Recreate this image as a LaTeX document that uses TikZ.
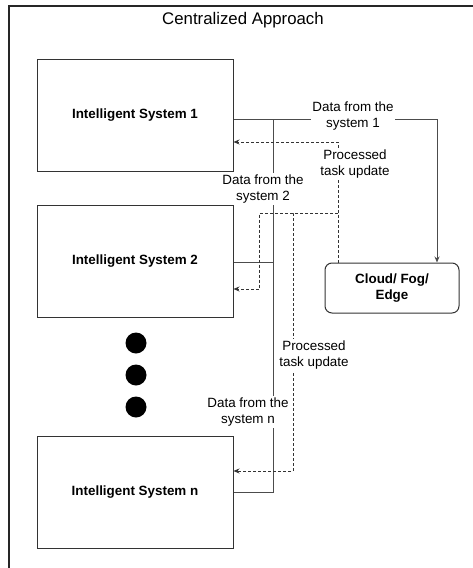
\documentclass[tikz,border=0pt]{standalone}
\usepackage{fontspec}
\setmainfont{Liberation Sans}
\usetikzlibrary{arrows.meta,calc}
\begin{document}
\begin{tikzpicture}[x=1pt,y=-1pt,
  sysbox/.style={draw=black!80,line width=1pt,minimum width=196pt,minimum height=112pt,
    inner sep=0pt,font=\fontsize{13.4}{16}\selectfont\bfseries},
  cloudbox/.style={draw=black!80,line width=1pt,rounded corners=7pt,minimum width=134pt,
    minimum height=50pt,inner sep=0pt,align=center,font=\fontsize{13.4}{16}\selectfont\bfseries},
  lbl/.style={fill=white,align=center,inner xsep=1pt,inner ysep=2pt,
    font=\fontsize{13.4}{16}\selectfont},
  conn/.style={draw=black!70,line width=1pt},
  dconn/.style={draw=black!80,line width=0.9pt,dash pattern=on 3pt off 2pt},
  tip/.style={-{Stealth[length=6pt,width=5pt]}},
  bigdot/.style={circle,fill=black,minimum size=21pt,inner sep=0pt}]
\useasboundingbox (0,0) rectangle (473,568);
\fill[white] (0,0) rectangle (473,568);
\draw[black!85,line width=2pt] (8.5,568) -- (8.5,5.5) -- (473,5.5);
\node[font=\fontsize{16.8}{20}\selectfont] (title) at (243,20) {Centralized Approach};

\node[sysbox] (b1) at (135,115) {Intelligent System 1};
\node[sysbox] (b2) at (135,261) {Intelligent System 2};
\node[sysbox] (bn) at (135,492) {Intelligent System n};
\node[cloudbox] (cloud) at (392,288) {Cloud/ Fog/\\Edge};

\node[bigdot] (d1) at (136,343) {};
\node[bigdot] (d2) at (136,375) {};
\node[bigdot] (d3) at (136,407) {};

\coordinate (j1) at (273,119);
\coordinate (s) at (338,213);

% data connectors
\draw[conn,tip] ([yshift=-4pt]b1.east) -| ([xshift=45pt]cloud.north);
\draw[conn] ([yshift=-1pt]b2.east) -| (j1);
\draw[conn] (bn.east) -| (j1);

% processed task update connectors
\draw[dconn,tip] ([xshift=-54pt]cloud.north) |- ([yshift=-27pt]b1.east);
\draw[dconn,tip] ([xshift=-54pt]cloud.north) -- (s) -- (259,213) |- ([yshift=-28pt]b2.east);
\draw[dconn,tip] (s) -- (293,213) |- ([yshift=21pt]bn.east);

% labels
\node[lbl] (l1) at (353,116) {Data from the\\system 1};
\node[lbl] (l2) at (263,189) {Data from the\\system 2};
\node[lbl] (l3) at (248,412) {Data from the\\system n};
\node[lbl] (p1) at (355,164) {Processed\\task update};
\node[lbl] (p2) at (314,355) {Processed\\task update};
\end{tikzpicture}
\end{document}
